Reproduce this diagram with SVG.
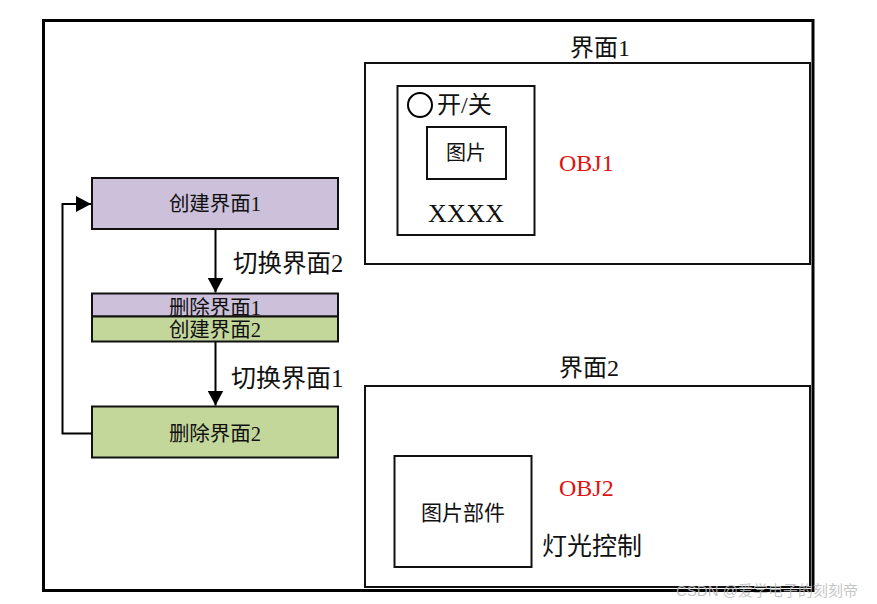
<svg xmlns="http://www.w3.org/2000/svg" width="877" height="604" viewBox="0 0 877 604">
<style>
.t{font-family:"Liberation Serif","Noto Sans CJK SC",serif;fill:#111;}
.box{fill:none;stroke:#111;stroke-width:2;}
.purple{fill:#CCC0DA;stroke:#111;stroke-width:2;}
.green{fill:#C4D79B;stroke:#111;stroke-width:2;}
.conn{fill:none;stroke:#000;stroke-width:2;}
.red{font-family:"Liberation Serif",serif;fill:#E01010;}
</style>
<defs>
<marker id="arr" markerUnits="userSpaceOnUse" markerWidth="16" markerHeight="16" viewBox="0 0 16 16" refX="15" refY="8" orient="auto">
<path d="M0,0 L15,8 L0,16 Z" fill="#000"/>
</marker>
</defs>
<rect width="877" height="604" fill="#fff"/>
<rect id="frame" x="43.5" y="20.5" width="769.5" height="570" fill="none" stroke="#000" stroke-width="3"/>

<g id="screen1">
<text class="t" x="600" y="56" font-size="24" text-anchor="middle">界面1</text>
<rect class="box" x="365" y="63" width="445" height="201"/>
</g>
<g id="obj1">
<rect class="box" x="397.5" y="86" width="137" height="149"/>
<circle cx="420" cy="105" r="12" fill="none" stroke="#000" stroke-width="2"/>
<text class="t" x="437" y="113" font-size="24">开/关</text>
<rect class="box" x="427" y="127" width="79" height="52"/>
<text class="t" x="466" y="160" font-size="20" text-anchor="middle">图片</text>
<text class="t" x="466" y="222" font-size="26" text-anchor="middle" textLength="76">XXXX</text>
<text class="red" x="559" y="171" font-size="24">OBJ1</text>
</g>

<g id="screen2">
<text class="t" x="589" y="376" font-size="24" text-anchor="middle">界面2</text>
<rect class="box" x="365" y="386" width="445" height="201"/>
</g>
<g id="obj2">
<rect class="box" x="394.5" y="456" width="137" height="111"/>
<text class="t" x="463" y="520" font-size="21" text-anchor="middle">图片部件</text>
<text class="red" x="559" y="496" font-size="24">OBJ2</text>
<text class="t" x="542" y="555" font-size="25">灯光控制</text>
</g>

<g id="create1">
<rect class="purple" x="92" y="178" width="246" height="51"/>
<text class="t" x="215" y="211" font-size="20.5" text-anchor="middle">创建界面1</text>
</g>
<g id="delete1">
<rect class="purple" x="92" y="293.5" width="246" height="23"/>
<text class="t" x="215" y="315" font-size="20.5" text-anchor="middle">删除界面1</text>
</g>
<g id="create2">
<rect class="green" x="92" y="316.5" width="246" height="25"/>
<text class="t" x="215" y="337" font-size="20.5" text-anchor="middle">创建界面2</text>
</g>
<g id="delete2">
<rect class="green" x="92" y="406.5" width="246" height="51"/>
<text class="t" x="215" y="441" font-size="20.5" text-anchor="middle">删除界面2</text>
</g>

<g id="connectors">
<line class="conn" x1="215.5" y1="229" x2="215.5" y2="292.5" marker-end="url(#arr)"/>
<text class="t" x="233" y="272" font-size="24.5">切换界面2</text>
<line class="conn" x1="215.5" y1="341.5" x2="215.5" y2="405.5" marker-end="url(#arr)"/>
<text class="t" x="231" y="387" font-size="25">切换界面1</text>
<polyline class="conn" points="92,433.5 62.5,433.5 62.5,204 91,204" marker-end="url(#arr)"/>
</g>

<text x="676" y="596" font-family="'Liberation Sans','Noto Sans CJK SC',sans-serif" font-size="15" fill="#bbb" fill-opacity="0.85">CSDN @爱学电子的刻刻帝</text>
</svg>
